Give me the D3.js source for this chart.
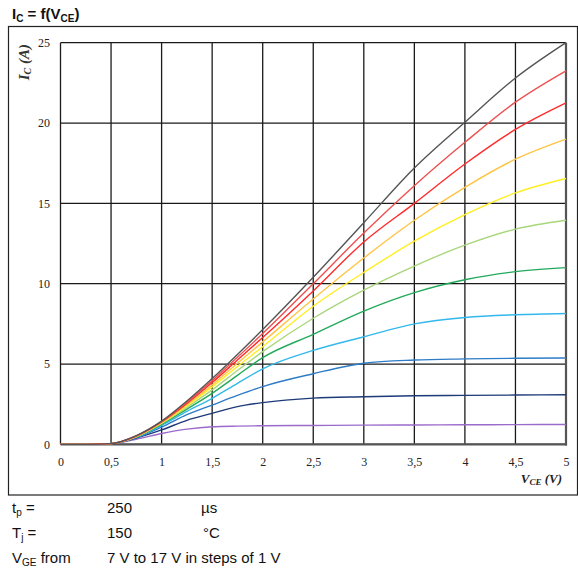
<!DOCTYPE html>
<html>
<head>
<meta charset="utf-8">
<script src="https://cdn.jsdelivr.net/npm/d3@7"></script>
<style>
  body { margin: 0; background: #fff; }
  svg { display: block; }
</style>
</head>
<body>
<svg id="chart"></svg>
<script>
// collector-emitter voltage samples (V)
var vce = [0, 0.25, 0.5, 0.75, 1, 1.25, 1.5, 1.75, 2, 2.5, 3, 3.5, 4, 4.5, 5]
// collector current (A) per gate voltage
var ic7  = [0, 0, 0.04, 0.32, 0.68, 0.95, 1.1, 1.14, 1.16, 1.18, 1.2, 1.21, 1.22, 1.23, 1.24]
var ic8  = [0, 0, 0.05, 0.4, 0.9, 1.5, 1.93, 2.35, 2.6, 2.88, 2.97, 3.03, 3.05, 3.07, 3.09]
var ic9  = [0, 0, 0.05, 0.42, 1.08, 1.85, 2.45, 3.05, 3.6, 4.4, 5.05, 5.25, 5.32, 5.36, 5.38]
var ic10 = [0, 0, 0.05, 0.45, 1.18, 2.05, 2.87, 3.8, 4.7, 5.85, 6.7, 7.5, 7.9, 8.07, 8.15]
var ic11 = [0, 0, 0.05, 0.47, 1.25, 2.2, 3.18, 4.3, 5.4, 6.85, 8.3, 9.45, 10.25, 10.75, 11.0]
var ic12 = [0, 0, 0.05, 0.48, 1.3, 2.3, 3.39, 4.6, 5.77, 7.85, 9.6, 11.1, 12.4, 13.4, 13.95]
var ic13 = [0, 0, 0.05, 0.49, 1.34, 2.4, 3.58, 4.85, 6.08, 8.6, 10.7, 12.65, 14.3, 15.65, 16.55]
var ic14 = [0, 0, 0.05, 0.5, 1.37, 2.47, 3.7, 5.05, 6.38, 9.05, 11.6, 13.95, 16.0, 17.75, 19.0]
var ic15 = [0, 0, 0.05, 0.52, 1.4, 2.55, 3.85, 5.25, 6.65, 9.55, 12.6, 15.0, 17.45, 19.6, 21.25]
var ic16 = [0, 0, 0.05, 0.53, 1.42, 2.62, 3.97, 5.42, 6.9, 10.0, 13.15, 16.1, 18.8, 21.3, 23.25]
var ic17 = [0, 0, 0.05, 0.55, 1.45, 2.7, 4.1, 5.6, 7.15, 10.4, 13.8, 17.2, 20.05, 22.8, 25.0]
var series = [ic7, ic8, ic9, ic10, ic11, ic12, ic13, ic14, ic15, ic16, ic17]
var colors = ['#9b6bcc', '#1f3a78', '#2e7cc6', '#33b8ec', '#22aa5a', '#a9d67a', '#ffee22', '#ffc444', '#ff2a2a', '#ee5050', '#555555']
var xTicks = [0, 0.5, 1, 1.5, 2, 2.5, 3, 3.5, 4, 4.5, 5]
var yTicks = [0, 5, 10, 15, 20, 25]

var width = 578
var height = 569
var svg = d3.select('#chart').attr('width', width).attr('height', height)

var x = d3.scaleLinear().domain([0, 5]).range([60.5, 566])
var y = d3.scaleLinear().domain([0, 25]).range([444.4, 42.7])
var comma = d3.formatLocale({decimal: ',', thousands: '.', grouping: [3], currency: ['', '']}).format('~g')

// outer frame
svg.append('rect')
  .attr('x', 8.5).attr('y', 26.5)
  .attr('width', 569).attr('height', 468.5)
  .attr('fill', 'none').attr('stroke', '#222').attr('stroke-width', 1.2)

// title
var title = svg.append('text').attr('x', 12).attr('y', 19)
  .attr('font-family', 'Liberation Sans, Arial, sans-serif')
  .attr('font-size', '15px').attr('font-weight', 'bold').attr('fill', '#111')
title.append('tspan').text('I')
title.append('tspan').attr('font-size', '10px').attr('dy', 3).text('C')
title.append('tspan').attr('dy', -3).text(' = f(V')
title.append('tspan').attr('font-size', '10px').attr('dy', 3).text('CE')
title.append('tspan').attr('dy', -3).text(')')

// grid
var grid = svg.append('g')
grid.selectAll('line.vx').data(xTicks).enter().append('line')
  .attr('x1', function (d) { return x(d) }).attr('x2', function (d) { return x(d) })
  .attr('y1', y(25)).attr('y2', y(0))
  .attr('stroke', '#1a1a1a').attr('stroke-width', 1.3)
grid.selectAll('line.hy').data(yTicks).enter().append('line')
  .attr('y1', function (d) { return y(d) }).attr('y2', function (d) { return y(d) })
  .attr('x1', x(0)).attr('x2', x(5))
  .attr('stroke', '#1a1a1a').attr('stroke-width', 1.3)
// heavier right/bottom edges of the plot box
svg.append('line').attr('x1', x(5)).attr('x2', x(5)).attr('y1', y(25)).attr('y2', y(0) + 1)
  .attr('stroke', '#555').attr('stroke-width', 2.2)
svg.append('line').attr('x1', x(0)).attr('x2', x(5) + 1).attr('y1', y(0)).attr('y2', y(0))
  .attr('stroke', '#555').attr('stroke-width', 2.2)

// curves
var line = d3.line()
  .x(function (d, i) { return x(vce[i]) })
  .y(function (d) { return y(d) })
  .curve(d3.curveMonotoneX)
svg.append('g').selectAll('path').data(series).enter().append('path')
  .attr('d', line)
  .attr('fill', 'none')
  .attr('stroke', function (d, i) { return colors[i] })
  .attr('stroke-width', 1.4)

// tick labels via axes (no domain/ticks drawn)
var xAxis = d3.axisBottom(x).tickValues(xTicks).tickSize(0).tickPadding(0).tickFormat(comma)
var yAxis = d3.axisLeft(y).tickValues(yTicks).tickSize(0).tickPadding(0)
var gx = svg.append('g').attr('transform', 'translate(0,' + 457 + ')').call(xAxis)
var gy = svg.append('g').attr('transform', 'translate(' + 50 + ',0)').call(yAxis)
;[gx, gy].forEach(function (g) {
  g.select('.domain').remove()
  g.selectAll('text')
    .attr('font-family', 'Liberation Serif, Times New Roman, serif')
    .attr('font-size', '12px').attr('fill', '#222')
})

// axis titles
var yt = svg.append('text')
  .attr('transform', 'translate(29,44) rotate(-90)')
  .attr('text-anchor', 'end')
  .attr('font-family', 'Liberation Serif, Times New Roman, serif')
  .attr('font-size', '15px').attr('font-weight', 'bold').attr('font-style', 'italic').attr('fill', '#333')
yt.append('tspan').text('I')
yt.append('tspan').attr('font-size', '10px').attr('dy', 2).text('C')
yt.append('tspan').attr('dy', -2).text(' (A)')

var xt = svg.append('text')
  .attr('x', 562).attr('y', 483)
  .attr('text-anchor', 'end')
  .attr('font-family', 'Liberation Serif, Times New Roman, serif')
  .attr('font-size', '13px').attr('font-weight', 'bold').attr('font-style', 'italic').attr('fill', '#222')
xt.append('tspan').text('V')
xt.append('tspan').attr('font-size', '9px').attr('dy', 2).text('CE')
xt.append('tspan').attr('dy', -2).text(' (V)')

// test conditions
var notes = svg.append('g')
  .attr('font-family', 'Liberation Sans, Arial, sans-serif')
  .attr('font-size', '15px').attr('fill', '#111')
var n1 = notes.append('text').attr('x', 12).attr('y', 513)
n1.append('tspan').text('t')
n1.append('tspan').attr('font-size', '10px').attr('dy', 3).text('p')
n1.append('tspan').attr('dy', -3).text(' =')
notes.append('text').attr('x', 107).attr('y', 513).text('250')
notes.append('text').attr('x', 201).attr('y', 513).text('µs')
var n2 = notes.append('text').attr('x', 12).attr('y', 538)
n2.append('tspan').text('T')
n2.append('tspan').attr('font-size', '10px').attr('dy', 3).text('j')
n2.append('tspan').attr('dy', -3).text(' =')
notes.append('text').attr('x', 107).attr('y', 538).text('150')
notes.append('text').attr('x', 203).attr('y', 538).text('°C')
var n3 = notes.append('text').attr('x', 12).attr('y', 563)
n3.append('tspan').text('V')
n3.append('tspan').attr('font-size', '10px').attr('dy', 3).text('GE')
n3.append('tspan').attr('dy', -3).text(' from')
notes.append('text').attr('x', 107).attr('y', 563).text('7 V to 17 V in steps of 1 V')
</script>
</body>
</html>
